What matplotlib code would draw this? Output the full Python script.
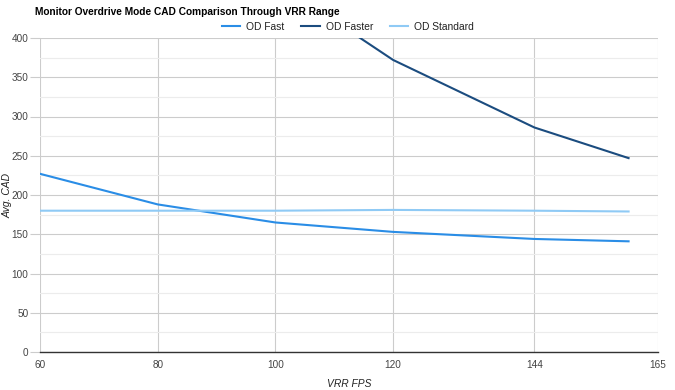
import numpy as np
import matplotlib.pyplot as plt
from matplotlib.ticker import MultipleLocator

plt.rcParams['font.family'] = ['Liberation Sans', 'DejaVu Sans']

# data
fps = [60, 80, 100, 120, 144, 160]
od_fast = [227, 188, 165, 153, 144, 141]
fps_faster = [100, 120, 144, 160]
od_faster = [472, 372, 286, 247]
od_standard = [180, 180, 180, 181, 180, 179]
x_ticks = [60, 80, 100, 120, 144, 165]

fig = plt.figure(figsize=(6.75, 3.9), dpi=100)
ax = fig.add_axes([40/675, 1-352/390, 618/675, 314/390])

ax.plot(fps, od_fast, color='#2a8de6', lw=1.5, label='OD Fast')
ax.plot(fps_faster, od_faster, color='#1b4c7f', lw=1.5, label='OD Faster')
ax.plot(fps, od_standard, color='#8fcaf5', lw=1.5, label='OD Standard')

ax.set_xlim(60, 165)
ax.set_ylim(0, 400)
ax.set_xticks(x_ticks)
ax.yaxis.set_major_locator(MultipleLocator(50))
ax.yaxis.set_minor_locator(MultipleLocator(25))
ax.grid(True, which='major', color='#cccccc', lw=0.8)
ax.grid(True, which='minor', axis='y', color='#ececec', lw=0.8)
ax.set_axisbelow(True)
for s in ['top', 'right', 'left']:
    ax.spines[s].set_visible(False)
ax.spines['bottom'].set_color('#333333')
ax.spines['bottom'].set_linewidth(1.0)
ax.tick_params(axis='x', length=0, labelsize=7.2, colors='#444444', pad=6)
ax.tick_params(axis='y', which='major', length=7.2, width=0.8, color='#cccccc',
               labelsize=7.2, labelcolor='#444444', pad=1)
ax.tick_params(axis='y', which='minor', length=0)
ax.yaxis.get_major_ticks()[0].tick1line.set_color('#333333')

ax.set_xlabel('VRR FPS', fontstyle='italic', fontsize=7.4, color='#222222', labelpad=6)
ax.set_ylabel('Avg. CAD', fontstyle='italic', fontsize=7.4, color='#222222')
ax.yaxis.set_label_coords(-27/618, 0.5)

fig.text(35/675, 1-12/390, 'Monitor Overdrive Mode CAD Comparison Through VRR Range',
         fontsize=7.3, fontweight='bold', va='center', ha='left', color='#000000')
fig.legend(loc='center', bbox_to_anchor=(348/675, 1-27/390), ncol=3, frameon=False,
           fontsize=7.4, handlelength=1.8, columnspacing=1.6, handletextpad=0.6,
           labelcolor='#222222')

fig.savefig('out.png', dpi=100)
